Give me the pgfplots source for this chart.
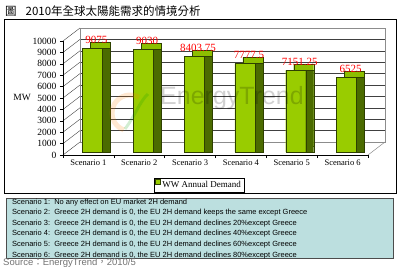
\documentclass[border=0pt]{standalone}
\usepackage{pgfplots}
\pgfplotsset{compat=1.18}
\usepackage{pgfplotstable}
\usepackage{fontspec}
\setmainfont{Liberation Serif}
\newfontfamily\sansf{Liberation Sans}
\newfontfamily\cjk{Noto Sans CJK TC}

\definecolor{barfront}{HTML}{99CC00}
\definecolor{barside}{HTML}{4B6B00}
\definecolor{bartop}{HTML}{8CBF00}
\definecolor{barline}{HTML}{2E4000}
\definecolor{infofill}{HTML}{BCDFDF}

\pgfplotstableread{
x y label
1 9075 9075
2 9030 9030
3 8403.75 8403.75
4 7777.5 7777.5
5 7151.25 7151.25
6 6525 6525
}\demand

\begin{document}
\begin{tikzpicture}[x=1pt,y=1pt]
\useasboundingbox (0,0) rectangle (400,266);
% outer frame
\draw[black, line width=0.8pt] (4,73) rectangle (396,247);
% title
\node[anchor=base west, inner sep=0] at (5,251) {\cjk\fontsize{11.5}{12}\selectfont 圖\hspace{9pt}2010年全球太陽能需求的情境分析};

% back wall
\begin{axis}[at={(80pt,124pt)}, anchor=south west, scale only axis,
  width=305pt, height=114pt,
  xmin=0.5, xmax=6.5, ymin=0, ymax=10000,
  xtick=\empty, ytick distance=1000, yticklabels={}, scaled y ticks=false,
  major tick length=0pt,
  ymajorgrids, grid style={black!75, line width=0.4pt},
  axis line style={black!45, line width=0.5pt}]
\end{axis}
% left wall and floor edges
\foreach \k in {0,...,10} \draw[black!75, line width=0.4pt] (63,111+11.4*\k) -- (80,124+11.4*\k);
\draw[black!45, line width=0.5pt] (368,111) -- (385,124);

% front axis with bars
\begin{axis}[at={(63pt,111pt)}, anchor=south west, scale only axis,
  width=305pt, height=114pt,
  xmin=0.5, xmax=6.5, ymin=0, ymax=10000, clip=false,
  axis x line*=bottom, axis y line*=left,
  axis line style={black, line width=0.5pt, -},
  xtick={0.5,1.5,...,6.5}, xticklabels={},
  extra x ticks={1,2,3,4,5,6},
  extra x tick labels={Scenario 1,Scenario 2,Scenario 3,Scenario 4,Scenario 5,Scenario 6},
  extra x tick style={major tick length=0pt},
  ytick distance=1000, scaled y ticks=false,
  /pgf/number format/1000 sep={},
  /pgf/number format/assume math mode=true,
  tick align=outside, major tick length=3pt,
  tick style={black, line width=0.5pt},
  xticklabel style={font=\fontsize{8.5}{9}\selectfont, yshift=-1pt},
  yticklabel style={font=\fontsize{9.5}{10}\selectfont},
  ylabel={MW},
  every axis y label/.style={at={(axis description cs:-0.134,0.509)}, anchor=center, font=\fontsize{9.5}{10}\selectfont},
  legend style={at={(axis description cs:0.446,-0.263)}, anchor=center,
    draw=black, line width=0.5pt, font=\fontsize{9}{10}\selectfont,
    inner sep=1pt, row sep=0pt},
  legend image code/.code={\draw[fill=barfront, draw=barline, line width=0.4pt] (0pt,-2.5pt) rectangle (5pt,2.5pt);},
]
\addplot[ybar, bar width=20pt, bar shift=0pt, fill=bartop, draw=barline, line width=0.3pt, xshift=12pt, yshift=9pt, forget plot] table[x=x,y=y] {\demand};
\addplot[ybar, bar width=20pt, bar shift=0pt, fill=barside, draw=barline, line width=0.3pt, xshift=12pt, yshift=3pt, forget plot] table[x=x,y=y] {\demand};
\addplot[ybar, bar width=20pt, bar shift=0pt, fill=barfront, draw=barline, line width=0.3pt, xshift=4pt, yshift=3pt,
  point meta=explicit symbolic, nodes near coords,
  every node near coord/.append style={text=red, inner sep=0pt, yshift=4.5pt, xshift=4pt, font=\fontsize{11}{11}\selectfont}]
  table[x=x,y=y,meta=label] {\demand};
\addlegendentry{WW Annual Demand}
\end{axis}

% watermark
\begin{scope}[opacity=0.18]
\draw[orange, line width=5pt] (130,153) ++(60:18) arc (60:250:18);
\draw[green!60!black, line width=3pt] (125,137) .. controls (135,150) and (140,165) .. (148,172);
\node[anchor=center, text=black] at (232,168) {\sansf\fontsize{25}{25}\selectfont EnergyTrend};
\end{scope}

% info box
\draw[draw=black!70, fill=infofill, line width=0.8pt] (6,8) rectangle (393,68);
\begin{scope}[every node/.style={anchor=base west, inner sep=0pt, font=\sansf\fontsize{7.5}{8}\selectfont}]
\node at (12,62) {Scenario 1:\ \ No any effect on EU market 2H demand};
\node at (12,51.4) {Scenario 2:\ \ Greece 2H demand is 0, the EU 2H demand keeps the same except Greece};
\node at (12,40.8) {Scenario 3:\ \ Greece 2H demand is 0, the EU 2H demand declines 20\%except Greece};
\node at (12,30.2) {Scenario 4:\ \ Greece 2H demand is 0, the EU 2H demand declines 40\%except Greece};
\node at (12,19.6) {Scenario 5:\ \ Greece 2H demand is 0, the EU 2H demand declines 60\%except Greece};
\node at (12,9) {Scenario 6:\ \ Greece 2H demand is 0, the EU 2H demand declines 80\%except Greece};
\end{scope}
% source
\node[anchor=base west, inner sep=0, text=black!55] at (3,0.5) {\sansf\fontsize{9.5}{10}\selectfont Source{\cjk：}EnergyTrend{\cjk，}2010/5};
\end{tikzpicture}
\end{document}
